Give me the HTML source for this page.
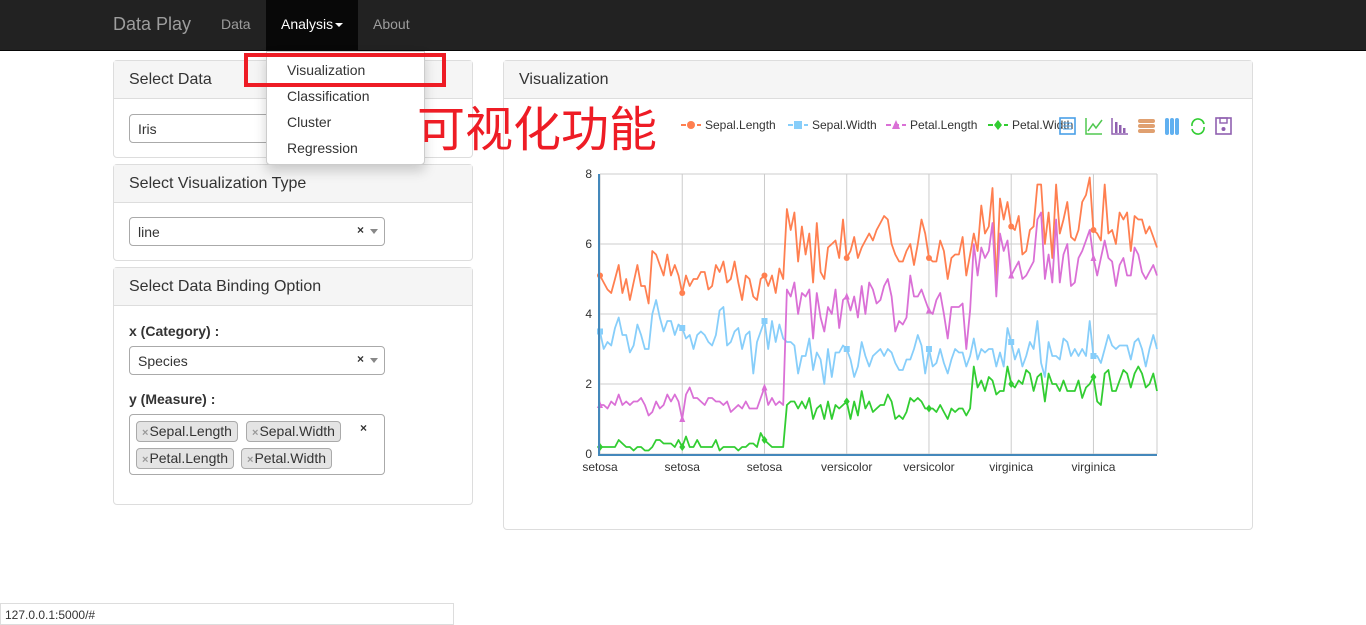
<!DOCTYPE html>
<html><head><meta charset="utf-8">
<style>
*{box-sizing:border-box}
body{margin:0;width:1366px;height:625px;overflow:hidden;background:#fff;font-family:"Liberation Sans","Noto Sans CJK SC",sans-serif;font-size:14px;color:#333;position:relative}
.nav{position:absolute;left:0;top:0;width:1366px;height:51px;background:#222;border-bottom:1px solid #080808}
.nav span{position:absolute;top:16px;color:#9d9d9d;font-size:14px}
.panel{position:absolute;border:1px solid #ddd;border-radius:4px;background:#fff}
.ph{height:38px;background:#f5f5f5;border-bottom:1px solid #ddd;padding:10px 15px;font-size:16px;color:#333}
.sel{position:absolute;left:15px;width:256px;height:29px;border:1px solid #aaa;border-radius:4px;padding:6px 8px;font-size:14px}
.sel .x{position:absolute;right:20px;top:5px;font-weight:bold;font-size:12px}
.sel .a{position:absolute;right:6px;top:11px;border-left:4px solid transparent;border-right:4px solid transparent;border-top:5px solid #888}
.tag{position:absolute;height:21px;background:#e4e4e4;border:1px solid #aaa;border-radius:4px;padding:1px 5px 0 5px;font-size:14px}
.tag b{color:#999;font-size:11px;font-weight:bold;margin-right:1px}
.lbl{position:absolute;left:15px;font-weight:bold;font-size:14px}
</style></head><body>
<div class="nav">
 <span style="left:113px;top:14px;font-size:18px">Data Play</span>
 <span style="left:221px">Data</span>
 <div style="position:absolute;left:266px;top:0;width:92px;height:50px;background:#080808"><span style="left:15px;color:#fff">Analysis<i style="display:inline-block;margin-left:2px;vertical-align:middle;border-left:4px solid transparent;border-right:4px solid transparent;border-top:4px solid #fff"></i></span></div>
 <span style="left:373px">About</span>
</div>

<div class="panel" style="left:113px;top:60px;width:360px;height:98px">
 <div class="ph">Select Data</div>
 <div class="sel" style="top:53px">Iris</div>
</div>
<div class="panel" style="left:113px;top:164px;width:360px;height:97px">
 <div class="ph">Select Visualization Type</div>
 <div class="sel" style="top:52px">line<span class="x">×</span><span class="a"></span></div>
</div>
<div class="panel" style="left:113px;top:267px;width:360px;height:238px">
 <div class="ph">Select Data Binding Option</div>
 <div class="lbl" style="top:55px">x (Category) :</div>
 <div class="sel" style="top:78px">Species<span class="x">×</span><span class="a"></span></div>
 <div class="lbl" style="top:123px">y (Measure) :</div>
 <div style="position:absolute;left:15px;top:146px;width:256px;height:61px;border:1px solid #aaa;border-radius:4px">
  <div class="tag" style="left:6px;top:6px"><b>×</b>Sepal.Length</div>
  <div class="tag" style="left:116px;top:6px"><b>×</b>Sepal.Width</div>
  <div class="tag" style="left:6px;top:33px"><b>×</b>Petal.Length</div>
  <div class="tag" style="left:111px;top:33px"><b>×</b>Petal.Width</div>
  <span style="position:absolute;left:230px;top:6px;font-weight:bold;font-size:12px">×</span>
 </div>
</div>

<div class="panel" style="left:503px;top:60px;width:750px;height:470px">
 <div class="ph">Visualization</div>
</div>

<svg id="chart" style="position:absolute;left:0;top:0" width="1366" height="625" xmlns="http://www.w3.org/2000/svg"></svg>

<div style="position:absolute;left:266px;top:51px;width:159px;height:114px;background:#fff;border:1px solid #ccc;border-radius:0 0 4px 4px;box-shadow:0 6px 12px rgba(0,0,0,.18);font-size:14px">
 <div style="position:absolute;left:20px;top:10px">Visualization</div>
 <div style="position:absolute;left:20px;top:36px">Classification</div>
 <div style="position:absolute;left:20px;top:62px">Cluster</div>
 <div style="position:absolute;left:20px;top:88px">Regression</div>
</div>
<div style="position:absolute;left:244px;top:53px;width:202px;height:34px;border:4px solid #ee1c25"></div>
<div style="position:absolute;left:417px;top:96px;font-size:48px;line-height:58px;color:#ee1c25;font-family:'Noto Sans CJK SC',sans-serif">可视化功能</div>

<div style="position:absolute;left:0;top:603px;width:454px;height:22px;background:#fff;border:1px solid #ddd;font-size:12px;padding:4px 4px;color:#333">127.0.0.1:5000/#</div>

<script>
const sepalLength=[5.1,4.9,4.7,4.6,5.0,5.4,4.6,5.0,4.4,4.9,5.4,4.8,4.8,4.3,5.8,5.7,5.4,5.1,5.7,5.1,5.4,5.1,4.6,5.1,4.8,5.0,5.0,5.2,5.2,4.7,4.8,5.4,5.2,5.5,4.9,5.0,5.5,4.9,4.4,5.1,5.0,4.5,4.4,5.0,5.1,4.8,5.1,4.6,5.3,5.0,7.0,6.4,6.9,5.5,6.5,5.7,6.3,4.9,6.6,5.2,5.0,5.9,6.0,6.1,5.6,6.7,5.6,5.8,6.2,5.6,5.9,6.1,6.3,6.1,6.4,6.6,6.8,6.7,6.0,5.7,5.5,5.5,5.8,6.0,5.4,6.0,6.7,6.3,5.6,5.5,5.5,6.1,5.8,5.0,5.6,5.7,5.7,6.2,5.1,5.7,6.3,5.8,7.1,6.3,6.5,7.6,4.9,7.3,6.7,7.2,6.5,6.4,6.8,5.7,5.8,6.4,6.5,7.7,7.7,6.0,6.9,5.6,7.7,6.3,6.7,7.2,6.2,6.1,6.4,7.2,7.4,7.9,6.4,6.3,6.1,7.7,6.3,6.4,6.0,6.9,6.7,6.9,5.8,6.8,6.7,6.7,6.3,6.5,6.2,5.9];
const sepalWidth=[3.5,3.0,3.2,3.1,3.6,3.9,3.4,3.4,2.9,3.1,3.7,3.4,3.0,3.0,4.0,4.4,3.9,3.5,3.8,3.8,3.4,3.7,3.6,3.3,3.4,3.0,3.4,3.5,3.4,3.2,3.1,3.4,4.1,4.2,3.1,3.2,3.5,3.6,3.0,3.4,3.5,2.3,3.2,3.5,3.8,3.0,3.8,3.2,3.7,3.3,3.2,3.2,3.1,2.3,2.8,2.8,3.3,2.4,2.9,2.7,2.0,3.0,2.2,2.9,2.9,3.1,3.0,2.7,2.2,2.5,3.2,2.8,2.5,2.8,2.9,3.0,2.8,3.0,2.9,2.6,2.4,2.4,2.7,2.7,3.0,3.4,3.1,2.3,3.0,2.5,2.6,3.0,2.6,2.3,2.7,3.0,2.9,2.9,2.5,2.8,3.3,2.7,3.0,2.9,3.0,3.0,2.5,2.9,2.5,3.6,3.2,2.7,3.0,2.5,2.8,3.2,3.0,3.8,2.6,2.2,3.2,2.8,2.8,2.7,3.3,3.2,2.8,3.0,2.8,3.0,2.8,3.8,2.8,2.8,2.6,3.0,3.4,3.1,3.0,3.1,3.1,3.1,2.7,3.2,3.3,3.0,2.5,3.0,3.4,3.0];
const petalLength=[1.4,1.4,1.3,1.5,1.4,1.7,1.4,1.5,1.4,1.5,1.5,1.6,1.4,1.1,1.2,1.5,1.3,1.4,1.7,1.5,1.7,1.5,1.0,1.7,1.9,1.6,1.6,1.5,1.4,1.6,1.6,1.5,1.5,1.4,1.5,1.2,1.3,1.4,1.3,1.5,1.3,1.3,1.3,1.6,1.9,1.4,1.6,1.4,1.5,1.4,4.7,4.5,4.9,4.0,4.6,4.5,4.7,3.3,4.6,3.9,3.5,4.2,4.0,4.7,3.6,4.4,4.5,4.1,4.5,3.9,4.8,4.0,4.9,4.7,4.3,4.4,4.8,5.0,4.5,3.5,3.8,3.7,3.9,5.1,4.5,4.5,4.7,4.4,4.1,4.0,4.4,4.6,4.0,3.3,4.2,4.2,4.2,4.3,3.0,4.1,6.0,5.1,5.9,5.6,5.8,6.6,4.5,6.3,5.8,6.1,5.1,5.3,5.5,5.0,5.1,5.3,5.5,6.7,6.9,5.0,5.7,4.9,6.7,4.9,5.7,6.0,4.8,4.9,5.6,5.8,6.1,6.4,5.6,5.1,5.6,6.1,5.6,5.5,4.8,5.4,5.6,5.1,5.1,5.9,5.7,5.2,5.0,5.2,5.4,5.1];
const petalWidth=[0.2,0.2,0.2,0.2,0.2,0.4,0.3,0.2,0.2,0.1,0.2,0.2,0.1,0.1,0.2,0.4,0.4,0.3,0.3,0.3,0.2,0.4,0.2,0.5,0.2,0.2,0.4,0.2,0.2,0.2,0.2,0.4,0.1,0.2,0.2,0.2,0.2,0.1,0.2,0.2,0.3,0.3,0.2,0.6,0.4,0.3,0.2,0.2,0.2,0.2,1.4,1.5,1.5,1.3,1.5,1.3,1.6,1.0,1.3,1.4,1.0,1.5,1.0,1.4,1.3,1.4,1.5,1.0,1.5,1.1,1.8,1.3,1.5,1.2,1.3,1.4,1.4,1.7,1.5,1.0,1.1,1.0,1.2,1.6,1.5,1.6,1.5,1.3,1.3,1.3,1.2,1.4,1.2,1.0,1.3,1.2,1.3,1.3,1.1,1.3,2.5,1.9,2.1,1.8,2.2,2.1,1.7,1.8,1.8,2.5,2.0,1.9,2.1,2.0,2.4,2.3,1.8,2.2,2.3,1.5,2.3,2.0,2.0,1.8,2.1,1.8,1.8,1.8,2.1,1.6,1.9,2.0,2.2,1.5,1.4,2.3,2.4,1.8,1.8,2.1,2.4,2.3,1.9,2.3,2.5,2.3,1.9,2.0,2.3,1.8];
const speciesNames=["setosa","versicolor","virginica"];
const yTicks=[0,2,4,6,8];
const seriesNames=["Sepal.Length","Sepal.Width","Petal.Length","Petal.Width"];

const svg=document.getElementById('chart');
const NS="http://www.w3.org/2000/svg";
const X0=600,X1=1157,Y0=454,Y1=174,YMAX=8;
const n=sepalLength.length;
const xs=i=>X0+i*(X1-X0)/(n-1);
const ys=v=>Y0-v/YMAX*(Y0-Y1);
const cat=i=>speciesNames[Math.min(2,Math.floor(i/(n/3)))];
function mk(tag,attrs){const e=document.createElementNS(NS,tag);for(const k in attrs)e.setAttribute(k,attrs[k]);svg.appendChild(e);return e;}
yTicks.forEach(t=>{
 const l=mk('line',{x1:X0,x2:X1,y1:ys(t),y2:ys(t),stroke:'#ccc','stroke-width':1});
 
 
 const tx=mk('text',{x:X0-8,y:ys(t)+4,'text-anchor':'end','font-size':12,fill:'#333'});tx.textContent=t;
 
 
});
const step=22;
for(let i=0;i<n;i+=step){
 const l=mk('line',{x1:xs(i),x2:xs(i),y1:Y1,y2:Y0,stroke:'#ccc','stroke-width':1});
 
 
 const tx=mk('text',{x:xs(i),y:Y0+17,'text-anchor':'middle','font-size':12,fill:'#333'});tx.textContent=cat(i);
 
 
}
mk('line',{x1:X1,x2:X1,y1:Y1,y2:Y0,stroke:'#ccc'});
const colors=['#ff7f50','#87cefa','#da70d6','#32cd32'];
const series=[sepalLength,sepalWidth,petalLength,petalWidth];
const symbols=['circle','rect','triangle','diamond'];
function sym(type,x,y,c,r){
 if(type==='circle')return mk('circle',{cx:x,cy:y,r:r,fill:c});
 if(type==='rect')return mk('rect',{x:x-r,y:y-r,width:2*r,height:2*r,fill:c});
 if(type==='triangle')return mk('polygon',{points:`${x},${y-r-1} ${x-r},${y+r} ${x+r},${y+r}`,fill:c});
 return mk('polygon',{points:`${x},${y-r-1} ${x+r},${y} ${x},${y+r+1} ${x-r},${y}`,fill:c});
}
series.forEach((d,s)=>{
 const p=mk('polyline',{points:d.map((v,i)=>xs(i).toFixed(1)+','+ys(v).toFixed(1)).join(' '),fill:'none',stroke:colors[s],'stroke-width':1.8,'stroke-linejoin':'round'});
 
 
 for(let i=0;i<n;i+=step){
  const m=sym(symbols[s],xs(i),ys(d[i]),colors[s],3);
  
  
 }
});
mk('line',{x1:X0-1,x2:X0-1,y1:Y1,y2:Y0+1,stroke:'#4488bb','stroke-width':2});
mk('line',{x1:X0-2,x2:X1,y1:Y0+1,y2:Y0+1,stroke:'#4488bb','stroke-width':2});
const legX=[681,788,886,988];
seriesNames.forEach((nm,s)=>{
 const y=125;
 mk('line',{x1:legX[s],x2:legX[s]+20,y1:y,y2:y,stroke:colors[s],'stroke-width':2,'stroke-dasharray':'5,3'});
 const m=sym(symbols[s],legX[s]+10,y,colors[s],4);
 
 
 const t=mk('text',{x:legX[s]+24,y:y+4,'font-size':12,fill:'#333'});t.textContent=nm;
 
 
});
const tb=[['#4aa0e8','data-view'],['#50c850','line-toggle'],['#9060b0','bar-toggle'],['#e0a070','stack-toggle'],['#60b0f0','tiled-toggle'],['#32cd32','restore'],['#9060b0','save-image']];
tb.forEach((t,i)=>{
 const x=1060+i*26,y=118;
 const g=mk('rect',{x:x,y:y,width:15,height:16,fill:'none',stroke:t[0],'stroke-width':1.6,opacity:i===0||i===6?1:0});
 
 
 if(i===1)mk('polyline',{points:`${x},${y} ${x},${y+16} ${x+16},${y+16}`,fill:'none',stroke:t[0],'stroke-width':1.5});
 if(i===1)mk('polyline',{points:`${x+2},${y+13} ${x+7},${y+6} ${x+10},${y+10} ${x+16},${y+2}`,fill:'none',stroke:t[0],'stroke-width':1.5});
 if(i===2){mk('polyline',{points:`${x},${y} ${x},${y+16} ${x+16},${y+16}`,fill:'none',stroke:t[0],'stroke-width':1.5});[3,7,11].forEach((o,k)=>mk('rect',{x:x+o,y:y+4+k*3,width:2.5,height:11-k*3,fill:t[0]}));}
 if(i===3)[1,6,11].forEach(o=>mk('rect',{x:x,y:y+o,width:17,height:4,rx:2,fill:t[0]}));
 if(i===4)[1,6,11].forEach(o=>mk('rect',{x:x+o,y:y,width:4,height:17,rx:2,fill:t[0]}));
 if(i===5){mk('path',{d:`M${x+2},${y+8} A6,6 0 0 1 ${x+14},${y+6}`,fill:'none',stroke:t[0],'stroke-width':1.6});mk('path',{d:`M${x+14},${y+9} A6,6 0 0 1 ${x+2},${y+11}`,fill:'none',stroke:t[0],'stroke-width':1.6});}
 if(i===6){mk('rect',{x:x+4,y:y,width:7,height:5,fill:'none',stroke:t[0],'stroke-width':1.4});mk('circle',{cx:x+7.5,cy:y+11,r:2,fill:t[0]});}
 if(i===0)[5,8,11].forEach(o=>mk('line',{x1:x+3,x2:x+12,y1:y+o,y2:y+o,stroke:t[0],'stroke-width':1}));
});
</script>
</body></html>
